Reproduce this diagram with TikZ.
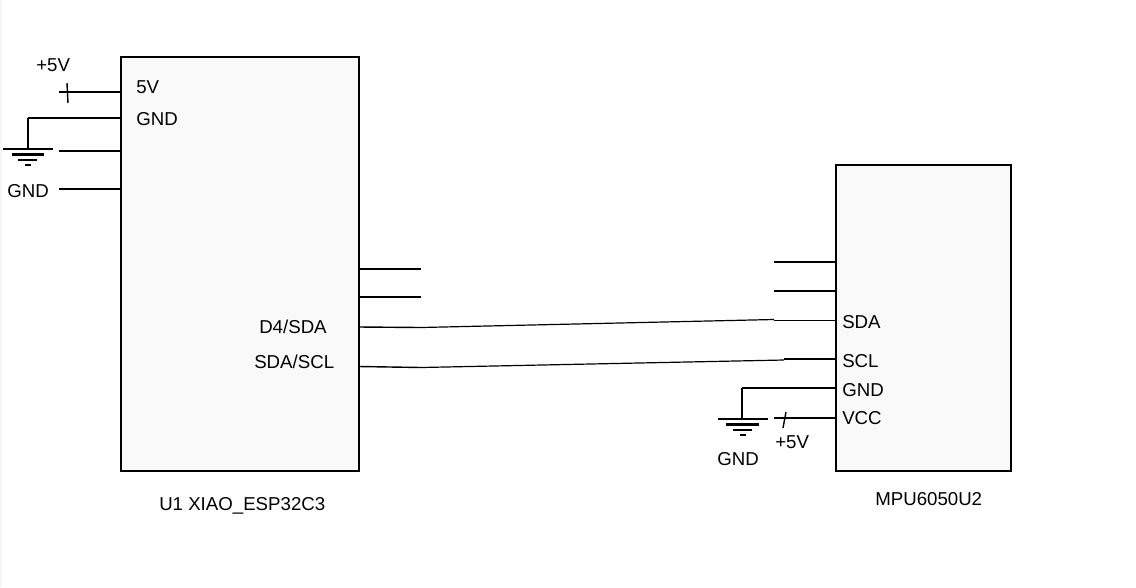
\documentclass[tikz,border=0pt]{standalone}
\usepackage{fontspec}
\setmainfont{Liberation Sans}

\tikzset{
  chipbox/.style={draw=black, fill={rgb, 255:red, 249; green, 249; blue, 249}, line width=1.25pt, inner sep=0pt, outer sep=0pt},
  pinline/.style={line width=1.05pt},
  wireline/.style={line width=0.9pt},
  gndline/.style={line width=2.1pt},
  lbl/.style={anchor=west, inner sep=0pt, font=\fontsize{14}{16}\selectfont},
}

\begin{document}
\begin{tikzpicture}[x=0.75pt,y=0.75pt,yscale=-1,xscale=1]
\useasboundingbox (0,0) rectangle (1136,587);
\fill [color={rgb, 255:red, 246; green, 246; blue, 246}] (0,0) rectangle (2,587);

% Chips
\node (u1) [chipbox, minimum width=178.5pt, minimum height=310.5pt] at (240,264) {};
\node (mpu) [chipbox, minimum width=131.25pt, minimum height=229.5pt] at (923.5,318) {};

% Pin ends of U1
\coordinate (u1five) at (121,92);
\coordinate (u1gnd) at (121,118);
\coordinate (u1l3) at (121,151);
\coordinate (u1l4) at (121,189);
\coordinate (u1r1) at (359,269);
\coordinate (u1r2) at (359,297);
\coordinate (u1sda) at (359,327);
\coordinate (u1scl) at (359,366.5);
\coordinate (five) at (59,92);
\coordinate (l3) at (59,151);
\coordinate (l4) at (59,189);
\coordinate (r1) at (421,269);
\coordinate (r2) at (421,297);
\coordinate (sda) at (421,327.5);
\coordinate (scl) at (421,367.5);
\coordinate (gndtop) at (28,118);
\coordinate (gndbot) at (28,149);

% Pin ends of MPU
\coordinate (mpul1) at (836,262);
\coordinate (mpul2) at (836,291);
\coordinate (mpusda) at (836,320.5);
\coordinate (mpuscl) at (836,359);
\coordinate (mpugnd) at (836,388);
\coordinate (mpuvcc) at (836,418);
\coordinate (l1) at (774,262);
\coordinate (l2) at (774,291);
\coordinate (sda2) at (774,320.5);
\coordinate (scl2) at (784,359);
\coordinate (sdab) at (774,319.5);
\coordinate (sclb) at (784,360);
\coordinate (vcc) at (774,418);
\coordinate (gndtopb) at (742,388);
\coordinate (gndbotb) at (742,419);

%Straight Lines
\draw [pinline] (u1five) -- (five);
\draw [pinline] (u1gnd) -- (gndtop);
\draw [pinline] (u1l3) -- (l3);
\draw [pinline] (u1l4) -- (l4);
\draw [pinline] (u1r1) -- (r1);
\draw [pinline] (u1r2) -- (r2);
\draw [pinline] (u1sda) -- (sda);
\draw [pinline] (u1scl) -- (scl);
\draw [pinline] (mpul1) -- (l1);
\draw [pinline] (mpul2) -- (l2);
\draw [pinline] (mpusda) -- (sda2);
\draw [pinline] (mpuscl) -- (scl2);
\draw [pinline] (mpugnd) -- (gndtopb);
\draw [pinline] (mpuvcc) -- (vcc);
%Straight Lines
\draw [wireline] (sda) -- (sdab);
\draw [wireline] (scl) -- (sclb);
%Straight Lines
\draw [pinline] (67,83) -- (68,103);
\draw [pinline] (786,412) -- (783,428);

%Ground left
\draw [gndline] (gndtop) -- (gndbot);
\draw [gndline] (3,149) -- (53,149);
\draw [gndline] (12,154.5) -- (44,154.5);
\draw [gndline] (18,160) -- (37,160);
\draw [gndline] (25,165) -- (31,165);
%Ground right
\draw [gndline] (gndtopb) -- (gndbotb);
\draw [gndline] (718,419) -- (768,419);
\draw [gndline] (726,424.5) -- (759,424.5);
\draw [gndline] (733,430) -- (752,430);
\draw [gndline] (740,435) -- (746,435);

% Text Node
\node (tfive) [lbl] at (36,65) {+5V};
\node (tufive) [lbl] at (136,87) {5V};
\node (tugnd) [lbl] at (136,119) {GND};
\node (tgnd) [lbl] at (7,191) {GND};
\node (tusda) [lbl] at (259,326.5) {D4/SDA};
\node (tuscl) [lbl] at (254,362) {SDA/SCL};
\node (tuname) [lbl] at (159,505.5) {U1 XIAO\_ESP32C3};
\node (tmname) [lbl] at (875,499) {MPU6050U2};
\node (tmsda) [lbl] at (842,322) {SDA};
\node (tmscl) [lbl] at (842,361) {SCL};
\node (tmgnd) [lbl] at (842,390) {GND};
\node (tmvcc) [lbl] at (842,418) {VCC};
\node (tfiveb) [lbl] at (775,442.5) {+5V};
\node (tgndb) [lbl] at (717,459.5) {GND};

\end{tikzpicture}
\end{document}
